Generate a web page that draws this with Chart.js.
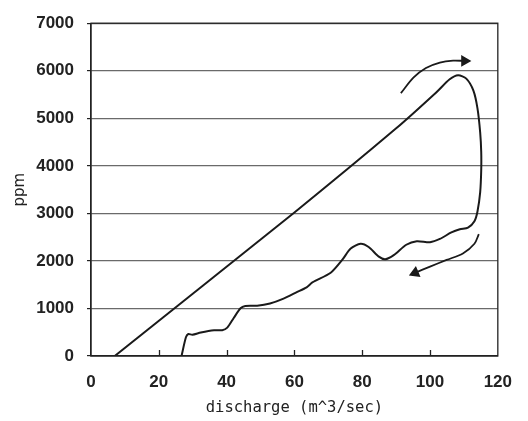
<!DOCTYPE html>
<html>
<head>
<meta charset="utf-8">
<script src="https://cdn.jsdelivr.net/npm/chart.js@4.4.1/dist/chart.umd.min.js"></script>
<style>
  html, body { margin: 0; padding: 0; background: #fff; }
  #wrap { width: 528px; height: 421px; }
</style>
</head>
<body>
<div id="wrap"><canvas id="ppmChart"></canvas></div>
<script>
// Hysteresis loop (discharge m^3/sec vs ppm)
const loopDischarge = [7, 60, 90.2, 101.9, 105.8, 108.3, 110.7, 112.8, 114.0, 114.8, 115.1, 115.1, 114.8, 114.0, 113.1, 111.2, 108.8, 106.3, 102.9, 100.0, 96.1, 93.0, 89.3, 86.8, 84.9, 81.9, 79.5, 76.6, 74.1, 70.7, 65.3, 63.6, 60.7, 56.8, 52.8, 49.0, 45.5, 44.1, 42.1, 40.2, 38.7, 36.3, 32.4, 29.9, 28.7, 28.0, 26.7];
const loopPpm = [0, 3020, 4800, 5549, 5820, 5905, 5834, 5582, 5210, 4700, 4300, 3900, 3446, 3039, 2835, 2700, 2666, 2599, 2462, 2395, 2415, 2340, 2122, 2035, 2090, 2293, 2361, 2259, 2021, 1750, 1547, 1445, 1343, 1207, 1105, 1058, 1052, 1003, 800, 597, 543, 543, 495, 448, 462, 393, 0];

// Direction arrows
const upArrowDischarge = [91.4, 95.1, 98.8, 102.9, 106.8, 110.2];
const upArrowPpm = [5529, 5855, 6058, 6172, 6213, 6207];
const downArrowDischarge = [114.4, 113.1, 109.7, 104.9, 100.0, 95.6];
const downArrowPpm = [2564, 2361, 2157, 2021, 1880, 1750];

// Axis ticks
const xTicks = [0, 20, 40, 60, 80, 100, 120];
const yTicks = [0, 1000, 2000, 3000, 4000, 5000, 6000, 7000];

function toPoints(xs, ys) {
    return xs.map((x, i) => ({ x: x, y: ys[i] }));
}

// arrow head only on the last point
function headOnly(n, value) {
    return Array.from({ length: n }, (_, i) => i === n - 1 ? value : 0);
}

// frame round the plot and the short inward x ticks
const framePlugin = {
    id: 'frame',
    afterDraw(chart) {
        const { ctx, chartArea: a, scales } = chart;
        ctx.save();
        ctx.strokeStyle = '#222';
        ctx.lineWidth = 1.3;
        ctx.strokeRect(a.left, a.top, a.right - a.left, a.bottom - a.top);
        xTicks.slice(1, -1).forEach(v => {
            const px = Math.round(scales.x.getPixelForValue(v)) + 0.5;
            ctx.beginPath();
            ctx.moveTo(px, a.bottom);
            ctx.lineTo(px, a.bottom - 6);
            ctx.stroke();
        });
        ctx.restore();
    }
};

const lineStyle = {
    showLine: true,
    borderColor: '#1a1a1a',
    backgroundColor: '#1a1a1a',
    pointRadius: 0,
    fill: false
};

const tickFont = { family: "'Liberation Sans', Arial, sans-serif", size: 17, weight: 'bold' };

new Chart(document.getElementById('ppmChart'), {
    type: 'scatter',
    data: {
        datasets: [
            Object.assign({}, lineStyle, {
                data: toPoints(loopDischarge, loopPpm),
                borderWidth: 2,
                tension: 0.25
            }),
            Object.assign({}, lineStyle, {
                data: toPoints(upArrowDischarge, upArrowPpm),
                borderWidth: 1.8,
                tension: 0.3,
                pointStyle: 'triangle',
                pointRadius: headOnly(upArrowDischarge.length, 5),
                pointRotation: headOnly(upArrowDischarge.length, 90)
            }),
            Object.assign({}, lineStyle, {
                data: toPoints(downArrowDischarge, downArrowPpm),
                borderWidth: 1.8,
                tension: 0.3,
                pointStyle: 'triangle',
                pointRadius: headOnly(downArrowDischarge.length, 5),
                pointRotation: headOnly(downArrowDischarge.length, 247)
            })
        ]
    },
    options: {
        responsive: true,
        maintainAspectRatio: false,
        animation: false,
        layout: { autoPadding: false, padding: { top: 12, right: 28, left: 0, bottom: 0 } },
        plugins: {
            legend: { display: false },
            tooltip: { enabled: false }
        },
        scales: {
            x: {
                type: 'linear',
                min: 0,
                max: 120,
                afterBuildTicks: scale => { scale.ticks = xTicks.map(v => ({ value: v })); },
                afterFit: scale => { scale.height = 65; },
                grid: { drawOnChartArea: false, drawTicks: false },
                border: { color: '#222', width: 1.3 },
                ticks: {
                    padding: 16,
                    color: '#222',
                    font: tickFont,
                    callback: v => String(v)
                },
                title: {
                    display: true,
                    text: 'discharge (m^3/sec)',
                    color: '#222',
                    padding: { top: 0, bottom: 4 },
                    font: { family: "'DejaVu Sans Mono', monospace", size: 15.5 }
                }
            },
            y: {
                min: 0,
                max: 7000,
                afterBuildTicks: scale => { scale.ticks = yTicks.map(v => ({ value: v })); },
                afterFit: scale => { scale.width = 91; },
                grid: { color: '#6a6a6a', lineWidth: 1.2, tickLength: 4, tickColor: '#222' },
                border: { color: '#222', width: 1.3 },
                ticks: {
                    padding: 13,
                    color: '#222',
                    font: tickFont,
                    callback: v => String(v)
                },
                title: {
                    display: true,
                    text: 'ppm',
                    color: '#222',
                    padding: { top: 11, bottom: 0 },
                    font: { family: "'DejaVu Sans', sans-serif", size: 15 }
                }
            }
        }
    },
    plugins: [framePlugin]
});
</script>
</body>
</html>
